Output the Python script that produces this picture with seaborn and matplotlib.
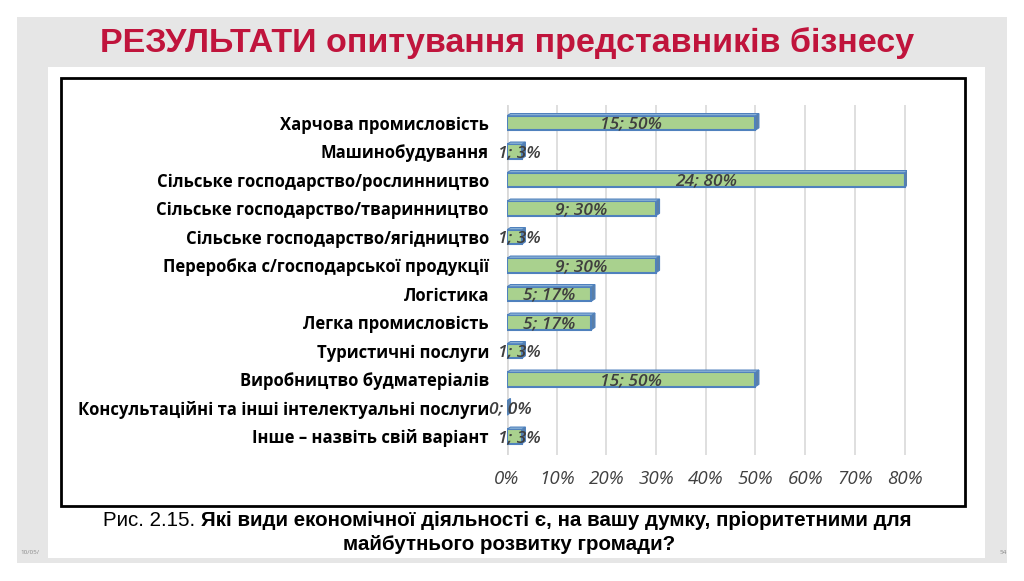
import pandas as pd
import seaborn as sns
import matplotlib.pyplot as plt
from matplotlib.patches import Rectangle, Polygon

categories = ['Харчова промисловість', 'Машинобудування', 'Сільське господарство/рослинництво',
              'Сільське господарство/тваринництво', 'Сільське господарство/ягідництво',
              'Переробка с/господарської продукції', 'Логістика', 'Легка промисловість',
              'Туристичні послуги', 'Виробництво будматеріалів',
              'Консультаційні та інші інтелектуальні послуги', 'Інше – назвіть свій варіант']
counts = [15, 1, 24, 9, 1, 9, 5, 5, 1, 15, 0, 1]
shares = [50, 3, 80, 30, 3, 30, 17, 17, 3, 50, 0, 3]

df = pd.DataFrame({'cat': categories, 'n': counts, 'pct': shares})

sns.set_theme(style='white')
plt.rcParams['font.family'] = ['Open Sans', 'DejaVu Sans']

W, H = 1024, 581
fig = plt.figure(figsize=(W / 100, H / 100), dpi=100)
fig.patch.set_facecolor('white')

# slide background, white panel, black frame (pixel coords -> figure coords)
def px_rect(x0, y0, x1, y1, **kw):
    fig.patches.append(Rectangle((x0 / W, 1 - y1 / H), (x1 - x0) / W, (y1 - y0) / H,
                                 transform=fig.transFigure, **kw))

px_rect(17, 17, 1007, 563, facecolor='#e6e6e6', edgecolor='none', zorder=-3)
px_rect(48, 67, 985, 558, facecolor='white', edgecolor='none', zorder=-2)
px_rect(61, 78, 965, 506, facecolor='none', edgecolor='black', linewidth=2, zorder=-1)

fig.text(0.495, 1 - 43 / H, 'РЕЗУЛЬТАТИ опитування представників бізнесу', ha='center', va='center',
         fontsize=24.5, fontweight='bold', color='#c0143c', family=['Liberation Sans', 'DejaVu Sans'])

ax = fig.add_axes([507 / W, 1 - 455 / H, 400 / W, 350 / H])
ax.set_zorder(5)
ax.set_facecolor('none')

sns.barplot(data=df, x='pct', y='cat', orient='h', ax=ax, width=0.5,
            color='#a9d18e', edgecolor='#4f81bd', linewidth=1.5, saturation=1, zorder=3)

# fake 3D depth on the bar ends and tops
d = 0.7
for p in list(ax.patches):
    x, y, w, h = p.get_x(), p.get_y(), p.get_width(), p.get_height()
    side = Polygon([(x + w, y), (x + w + d, y - 0.08), (x + w + d, y + h - 0.08), (x + w, y + h)],
                   closed=True, facecolor='#5a7fa8', edgecolor='#4f81bd', linewidth=0.8, zorder=3)
    top = Polygon([(x, y), (x + d, y - 0.08), (x + w + d, y - 0.08), (x + w, y)],
                  closed=True, facecolor='#8fb6d8', edgecolor='#4f81bd', linewidth=0.8, zorder=3)
    ax.add_patch(side)
    ax.add_patch(top)

for i, (n, pc) in enumerate(zip(counts, shares)):
    xc = max(pc / 2, 2.5) if pc > 0 else 0.6
    ax.text(xc, i + 0.05, f'{n}; {pc}%', ha='center', va='center', fontsize=12.5,
            style='italic', fontweight='semibold', color='#3f3f3f', zorder=4)

ax.set_xlim(0, 80.5)
ax.set_ylim(11.65, -0.63)
ax.set_xticks(range(0, 81, 10))
ax.set_xticklabels([f'{v}%' for v in range(0, 81, 10)], style='italic', fontsize=13.5, color='#404040')
ax.tick_params(axis='x', pad=11, length=0)
ax.tick_params(axis='y', pad=13, length=0, labelsize=12)
for lab in ax.get_yticklabels():
    lab.set_fontweight('bold')
    lab.set_color('black')
ax.xaxis.grid(True, color='#d9d9d9', linewidth=1.2, zorder=0)
ax.yaxis.grid(False)
ax.set_xlabel('')
ax.set_ylabel('')
for s in ax.spines.values():
    s.set_visible(False)
ax.axvline(0, color='#d9d9d9', linewidth=2, zorder=1)

cap_font = ['Liberation Sans', 'DejaVu Sans']
cap1 = fig.text(103 / W, 1 - 521 / H, 'Рис. 2.15. ', ha='left', va='center', fontsize=14.8,
                family=cap_font, color='black')
fig.canvas.draw()
bb = cap1.get_window_extent()
fig.text(bb.x1 / W, 1 - 521 / H, 'Які види економічної діяльності є, на вашу думку, пріоритетними для',
         ha='left', va='center', fontsize=14.8, fontweight='bold', family=cap_font, color='black')
fig.text(0.497, 1 - 545 / H, 'майбутнього розвитку громади?', ha='center', va='center', fontsize=14.8,
         fontweight='bold', family=cap_font, color='black')

fig.text(20 / W, 1 - 553 / H, '10/05/', fontsize=4.5, color='#888888', va='center')
fig.text(1000 / W, 1 - 553 / H, '54', fontsize=4.5, color='#888888', va='center')

fig.savefig('out.png', dpi=100)
